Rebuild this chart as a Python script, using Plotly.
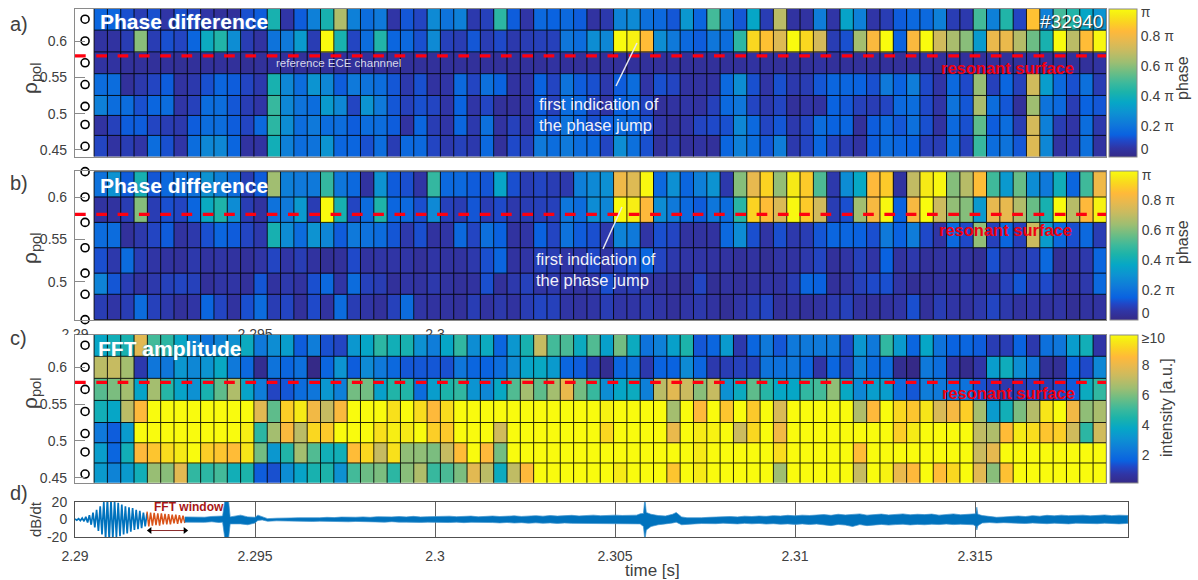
import plotly.graph_objects as go

W, H = 1198, 580
X = lambda p: p / W
Y = lambda p: 1 - p / H

# ---------- data (phase in % of pi, intensity in a.u., rho_pol, time) ----------
t_first = 2.29053
t_cell = 0.00037
n_cols = 76
rho_channels = [0.63, 0.6, 0.57, 0.54, 0.51, 0.485, 0.455]
rho_edges_ac = [0.645, 0.615, 0.585, 0.555, 0.525, 0.4975, 0.47, 0.44]
rho_edges_b = [0.63, 0.6, 0.57, 0.54, 0.51, 0.485, 0.455]
rho_resonant = 0.5795

phase_a_0 = [16,16,12,8,12,6,12,10,6,4,4,12,14,42,6,14,24,42,66,24,18,22,6, 13,10,27,20,24,7,9,46,14,6,17,15,17,14,5,7,25,27,19,17,13,31,16,50,24,13,36,8,68,5, 5,23,6,35,24,6,8,14,17,17,24,8,7,50,24,44,10,85,24,50,44,36,30]
phase_a_1 = [5,5,8,60,8,12,10,16,38,44,28,8,5,20,22,32,8,100,42,10,18,44,16, 17,12,27,9,8,13,8,11,7,8,9,9,21,18,28,26,100,96,84,28,22,17,14,21,18,46,90,85,75,98, 90,73,8,12,64,82,98,15,82,100,72,65,60,32,78,78,67,56,42,100,68,84,97]
phase_a_2 = [5,5,4,4,4,4,3,4,4,4,4,3,4,5,4,4,4,4,4,4,4,4,4, 4,4,4,4,4,4,4,4,4,4,4,5,4,4,4,4,4,4,4,4,4,4,4,4,4,4,5,4,4,4, 4,5,4,4,4,4,4,4,4,5,4,4,4,4,4,4,4,5,4,4,4,4,5]
phase_a_3 = [18,18,4,7,10,14,5,7,12,16,14,10,7,42,26,18,30,26,14,22,20,18,13, 7,12,5,6,17,10,19,15,5,6,15,10,20,14,12,7,14,18,6,12,10,5,5,5,17,28,12,6,12,7, 8,13,16,16,15,12,22,15,23,11,6,17,11,62,9,16,9,72,33,17,12,19,8]
phase_a_4 = [24,18,18,12,16,18,6,9,18,18,13,8,6,48,26,20,18,32,26,10,30,22,13, 9,12,10,6,15,6,10,4,4,6,14,9,18,16,10,6,15,16,10,4,5,6,5,9,17,21,10,7,10,4, 6,5,15,13,9,8,10,17,18,11,6,20,13,65,18,13,4,63,20,17,8,15,13]
phase_a_5 = [5,9,14,14,10,8,7,14,18,18,14,10,17,46,28,18,22,18,18,14,18,18,14, 5,16,8,6,16,7,19,5,9,6,16,13,20,15,12,14,18,16,12,6,4,6,10,11,12,26,17,10,13,7, 10,18,15,16,4,14,17,13,19,12,5,17,12,54,14,18,8,73,24,8,6,18,7]
phase_a_6 = [10,5,8,6,18,12,6,18,26,26,16,5,5,40,24,18,20,30,16,16,12,18,8, 17,17,10,7,9,7,17,4,11,9,22,18,22,18,17,10,28,19,12,4,7,4,5,4,16,24,18,13,23,7, 10,16,10,8,5,14,18,16,15,9,8,18,9,48,18,20,13,75,26,5,7,19,5]

phase_b_0 = [20,30,14,42,13,17,20,20,30,24,18,8,14,64,24,22,22,48,21,17,5,30,14, 12,6,48,17,17,14,13,36,12,8,10,8,7,24,27,29,80,76,98,17,29,16,24,30,7,60,78,90,62,95, 88,52,7,28,37,84,88,5,70,95,98,60,68,85,50,32,56,28,22,40,16,50,80]
phase_b_1 = [5,5,8,60,8,12,10,16,38,44,28,8,5,20,22,32,8,100,42,10,18,44,16, 17,12,27,9,8,13,8,11,7,8,9,9,21,18,28,26,100,96,84,28,22,17,14,21,18,46,90,85,75,98, 88,73,8,12,64,82,98,15,82,100,72,62,60,32,78,78,67,56,42,100,68,84,97]
phase_b_2 = [18,18,4,7,10,14,5,7,12,16,14,10,7,42,28,18,30,26,14,22,20,18,13, 7,12,5,6,17,10,19,15,5,6,15,10,20,14,12,7,25,22,6,12,10,5,5,5,17,28,12,6,12,7, 8,13,16,16,15,12,22,15,23,11,6,17,11,62,9,16,9,72,33,17,12,17,8]
phase_b_3 = [12,7,18,8,6,5,4,7,5,6,5,4,6,10,6,8,5,3,4,11,5,6,6, 6,4,6,5,5,7,12,16,5,6,9,8,6,7,11,6,10,12,16,10,7,6,6,5,5,4,5,3,6,5, 7,10,4,6,9,6,15,5,7,4,5,6,5,3,12,7,7,9,17,3,5,7,16]
phase_b_4 = [25,13,8,5,7,9,10,9,4,6,6,4,13,5,7,5,12,17,6,18,9,8,4, 6,5,7,5,4,5,12,4,7,9,6,7,6,5,6,12,7,8,5,5,4,3,10,3,5,4,5,6,5,8, 16,15,4,6,9,11,12,6,3,4,5,5,7,5,6,9,13,8,11,6,5,7,17]
phase_b_5 = [8,6,8,18,9,7,4,6,16,10,5,12,18,8,10,4,11,5,18,8,6,4,9, 18,6,5,5,4,8,5,7,5,8,10,9,6,5,6,8,6,6,7,6,4,6,7,5,3,6,8,10,4,5, 4,5,7,9,5,4,5,6,12,4,8,6,5,7,10,7,5,6,5,6,3,5,5]

fft_0 = [3.8,4.2,4.4,7.8,5.2,4.8,3.8,2.7,2.2,2.7,3.1,4.0,2.4,3,3.5,1.6,2.5,1.4,1.2,3.3,3.8,4.8,4.2, 4.4,3.1,2.5,3.8,4.9,3.0,4.0,1.8,3.3,4.4,7.2,5.2,5.3,4.0,5.4,3.6,5.9,4.0,2.2,2.6,3.6,4.5,1.5,1.8,3.4,.9,1.8,2.4,1.5,2.4, 2.4,2.4,2.4,1.3,3.3,2.4,4.9,3.4,1.8,3.8,2.2,1.7,1.8,1.6,1.0,1.0,1.7,.9,2.1,2.3,3.5,4.2,.8]
fft_1 = [7,7.2,6.6,.9,2.3,2.3,3.3,2.8,3.2,3.9,2.4,1.9,.4,2.2,1.8,2.1,.2,1.8,3.2,1.6,2.9,2.4,1.9, 1.5,1.5,1.5,1.4,2.3,1.8,1.7,2,2.9,3.7,3.9,3.4,1.8,1.6,1,.4,1.8,2.1,.9,1.7,1.7,2.9,1.8,.9,1,1.1,1.1,2.2,2.1,2.3, 1.8,.8,1.8,1.2,2.6,1.9,2,.4,.2,2.4,2,.8,.3,.8,3.5,4.1,3,2.3,.5,.5,1.8,1.3,2.8]
fft_2 = [5.5,6,6.6,3.7,6.6,4.7,3.7,3.1,4.4,5.6,6.8,3.7,2.5,1.2,1.5,2,2.3,3.3,2.6,5.9,5.9,3.6,4.6, 4.6,2,3.5,4.5,4.9,3.2,2.8,3.9,5.4,6.6,5.6,6.6,8,5.9,5,3,3.8,4,2.6,7,7.8,7.3,6.2,7.2,3.1,4,5.6,4.7,3.8,3.8, 4.9,5.2,6.3,3.9,2.8,3.5,3.5,2,1.5,2.5,2.4,2.1,2.2,1.4,1.1,.9,1,1.2,1,1.2,1.6,4,4.9]
fft_3 = [4.2,3.8,7,8.5,10,10,10,10,10,10,10,10,7.8,5.6,9,9.6,8.2,7.2,8.4,10,10,10,9.4, 10,9.3,8.5,9.3,10,10,10,10,10,10,10,10,10,10,10,9.8,10,10,10,10,6.6,10,8.5,10,8.8,10,8.9,10,7.6,10, 10,10,10,10,6.8,8.5,10,9.2,8.8,9.5,7.6,8.3,9,6.6,3.4,4.2,6,6.9,9.5,10,8.2,6.3,6.7]
fft_4 = [2.4,1.6,3.4,10,10,10,10,10,10,10,10,9.7,4.8,6.6,8.4,7,9.2,8.9,10,10,10,9.4,9.7, 9.6,10,9,8.9,10,10,10,7.4,10,10,10,10,10,10,10,9.2,10,10,10,10,8,10,9.6,9.8,10,7.3,9.2,10,8.2,10, 10,10,10,10,10,10,10,9,9.6,10,10,10,10,7.1,6.8,8.6,9.6,9.3,8.8,9,7.4,4.8,7.4]
fft_5 = [3.5,1.8,4.2,8.5,8.8,9.3,9.6,10,9,8.8,8.6,9.5,5.9,3.3,4.6,6.6,5.4,4.2,4.2,8.6,9.2,7.2,9.4, 6.3,6.3,6,7.2,8.6,10,8.5,5.9,10,10,10,10,10,10,10,10,10,10,10,10,10,10,9.6,10,10,10,10,10,9.3,10, 10,10,10,10,8.6,10,10,10,10,10,10,10,10,7.3,7.9,10,10,10,10,10,10,10,10]
fft_6 = [3.4,2.7,3.4,4.2,6.4,6.2,7.8,4.9,4.8,5.2,4.2,4.5,1.6,1.4,3,3.7,4.4,4.5,3.1,5.2,5.8,6,4.8, 6.2,6.8,5,5.3,6,7.8,7,4,7.1,8.5,10,10,10,10,10,10,9.6,10,10,10,8.8,10,9.6,10,10,10,10,10,6.5,10, 10,10,10,10,7.2,10,9.8,8,8.5,10,8.6,9.2,10,7.8,6.2,8.7,10,10,10,10,10,10,10]

# dB/dt: offsets from 2.29 s in ms. Burst and FFT window as oscillation peaks, the rest as a band
burst_t = [0,.05,.1,.15,.2,.25,.3,.35,.4,.45,.5,.55,.6,.65,.7,.75,.8,.85,.9,.95,1.0,1.05,1.1,1.15,1.2,1.25,1.3,1.35,1.4,1.45,1.5,1.55,1.6,1.65,1.7,1.75,1.8,1.85,1.9,1.95,2.0]
burst_v = [.5,-.8,1,-1.2,1.6,-2,3,-3.5,5,-6,8,-9,11,-13,15,-17,20,-22,24,-24,22,-22,21,-20,19,-19,17,-17,15,-16,14,-14,13,-12,11,-11,10,-10,8,-8,7]
window_t = [2.0,2.05,2.1,2.15,2.2,2.25,2.3,2.35,2.4,2.45,2.5,2.55,2.6,2.65,2.7,2.75,2.8,2.85,2.9,2.95,3.0,3.05]
window_v = [9,-8,8,-7,7.5,-6.5,7,-7,7,-5.5,6.5,-5.5,6,-5.5,5.5,-4.5,5.5,-5,5,-4,4.5,-4]
signal_t = [3.05,
    3.2,3.4,3.6,3.8,4.0,4.1,4.17,4.26,4.31,4.6,4.8,5.0,5.08,5.2,5.35,5.6,5.8,6.0,
    6.2,6.4,6.6,6.8,7.0,7.2,7.4,7.6,7.8,8.0,8.2,8.4,8.6,8.8,9.0,
    9.2,9.4,9.6,9.8,10.0,10.2,10.4,10.6,10.8,11.0,11.2,11.4,11.6,11.8,12.0,12.2,12.4,12.6,12.8,13.0,13.2,13.4,13.6,13.8,14.0,14.2,14.4,14.6,14.8,
    15.0,15.2,15.4,15.6,15.7,15.79,15.83,15.87,16.0,16.2,16.4,16.6,16.7,16.85,17.0,17.2,17.4,
    17.6,17.8,18.0,18.2,18.4,18.6,18.8,19.0,19.2,19.4,19.6,19.8,20.0,20.2,20.4,20.6,20.8,21.0,21.2,21.4,21.6,21.8,22.0,22.2,22.4,22.6,22.8,23.0,23.2,23.4,23.6,23.8,24.0,24.2,24.4,24.6,24.8,
    24.95,25.02,25.05,25.08,25.2,25.4,25.6,25.8,
    26.0,26.2,26.4,26.6,26.8,27.0,27.2,27.4,27.6,27.8,28.0,28.2,28.4,28.6,28.8,29.0,29.25]
signal_hi = [3,
    3,3.4,2.6,3.5,3.8,4,24,24,3,5,3,2.5,5,3,1,1.5,2,1.8,
    2,1.8,2.3,2,2.5,2.2,2.8,2.4,2.6,3,2.5,3.2,2.8,3,3.4,
    3,3.6,2.9,3.2,3.5,3,3.8,3.2,3.4,3.9,3.1,3.6,4,3.4,3.7,4.2,3.5,4,4.4,3.8,4.5,3.9,4.3,4.8,4.1,4.6,5,4.3,4.8,
    5,4.6,5.2,5,6.5,7,24,8,6,4.5,4,6,8,3,2,1.8,2,
    2.5,3,2.8,3.4,3,3.8,3.4,4,3.6,4.4,4,4.8,4.2,5,4.6,5.2,5.6,4.8,6,5.2,5.8,6.4,5,5.6,6.2,5.2,5.8,6.4,5.4,6,5.6,6.2,5,5.8,6.4,5.4,6,
    6,6.5,14,6,4.5,3.5,2.5,3,
    3.6,4,3.4,4.4,3.8,4.8,4.2,5,4.4,4.6,5,4.2,4.8,5.2,4.4,5,4.6]
signal_lo = [-3,
    -2.5,-3,-3.2,-2.6,-3.5,-3,-24,-24,-5,-5,-6,-4,-1,-.5,-2,-1.5,-1.5,-2,
    -1.8,-2,-2.2,-1.9,-2.4,-2.1,-2.3,-2.6,-2.2,-2.8,-2.4,-2.7,-3,-2.5,-3,
    -3,-2.8,-3.3,-3,-3.4,-3.1,-3.5,-3,-3.6,-3.2,-3.7,-3.3,-3.5,-3.9,-3.4,-4,-3.6,-4.2,-3.8,-4.3,-3.9,-4.5,-4,-4.4,-4.8,-4.2,-4.6,-5,-4.5,
    -4.8,-5,-4.6,-5,-5,-8,-24,-12,-8,-6,-5,-4,-3,-6,-5.5,-5,-4.6,
    -4.4,-4.8,-4.2,-4.6,-5,-4.4,-4.9,-4.5,-5.2,-4.8,-5.4,-5,-5.6,-5,-5.8,-5.2,-6,-7,-5.6,-6.4,-8,-5.8,-7,-6,-5.6,-6.4,-5.8,-5.4,-6.2,-5.6,-6,-5.4,-5.8,-5.2,-5.8,-5.4,-5.6,
    -6,-7.5,-12,-7,-4,-3.5,-4,-3.6,
    -3.8,-4.2,-4.6,-4,-4.4,-4.8,-4.2,-4.6,-5,-4.2,-4.8,-4.4,-4.8,-4.2,-4.6,-5,-4.4]

window_span = [2.29208, 2.29306]
window_span_y = -12.6
time_ticks = [2.29, 2.295, 2.3, 2.305, 2.31, 2.315]
rho_ticks = [0.45, 0.5, 0.55, 0.6]

# ---------- styles ----------
parula = [[0, "#352a87"], [0.06, "#3035a5"], [0.11, "#2048c8"], [0.15, "#0a62e0"], [0.22, "#0f78da"],
          [0.3, "#0d92d2"], [0.37, "#06a7c6"], [0.44, "#1cb3aa"], [0.5, "#3cb99c"], [0.57, "#6bbd85"],
          [0.64, "#9dbe72"], [0.72, "#c9bb60"], [0.79, "#e8b94e"], [0.85, "#ffb93a"], [0.91, "#fbd322"],
          [0.96, "#f6ea16"], [1, "#f9fb0e"]]
FONT = "Liberation Sans, Arial, sans-serif"
TICK = "#404040"
EDGE = "#8a8a8a"

fig = go.Figure()
x_edges = [t_first + i * t_cell for i in range(n_cols + 1)]


def colorbar(top, bottom, left, vals, texts):
    return dict(x=X(left), xanchor="left", xpad=0, thickness=27.5, thicknessmode="pixels",
                y=Y(bottom), yanchor="bottom", ypad=0, len=(bottom - top) / H, lenmode="fraction",
                tickvals=vals, ticktext=texts, ticks="",
                tickfont=dict(family=FONT, size=14, color=TICK), outlinecolor=EDGE, outlinewidth=1)


def add_panel(z, y_edges, zmin, zmax, cb, xa, ya):
    fig.add_trace(go.Heatmap(z=z, x=x_edges, y=y_edges, zmin=zmin, zmax=zmax, colorscale=parula,
                             colorbar=cb, xaxis=xa, yaxis=ya, hoverinfo="skip"))
    gx, gy = [], []
    for e in x_edges:
        gx += [e, e, None]
        gy += [min(y_edges), max(y_edges), None]
    for e in y_edges:
        gx += [x_edges[0], x_edges[-1], None]
        gy += [e, e, None]
    fig.add_trace(go.Scatter(x=gx, y=gy, mode="lines", line=dict(color="black", width=1), opacity=0.85,
                             xaxis=xa, yaxis=ya, showlegend=False, hoverinfo="skip"))
    fig.add_trace(go.Scatter(x=[2.29, x_edges[-1]], y=[rho_resonant, rho_resonant], mode="lines",
                             line=dict(color="#ff0010", width=3.3, dash="10.7px,10.6px"),
                             xaxis=xa, yaxis=ya, showlegend=False, hoverinfo="skip"))
    fig.add_trace(go.Scatter(x=[2.29028] * len(rho_channels), y=rho_channels, mode="markers", cliponaxis=False,
                             marker=dict(symbol="circle-open", size=8, color="black", line=dict(width=1.6, color="black")),
                             xaxis=xa, yaxis=ya, showlegend=False, hoverinfo="skip"))


add_panel([phase_a_6, phase_a_5, phase_a_4, phase_a_3, phase_a_2, phase_a_1, phase_a_0], rho_edges_ac[::-1], 0, 98,
          colorbar(9, 156.5, 1109, [4.9, 20, 40, 60, 80, 95.7], ["0", "0.2 π", "0.4 π", "0.6 π", "0.8 π", "π"]), "x", "y")
add_panel([phase_b_5, phase_b_4, phase_b_3, phase_b_2, phase_b_1, phase_b_0], rho_edges_b[::-1], 0, 99,
          colorbar(171.3, 320, 1110, [4.7, 20, 40, 60, 80, 96], ["0", "0.2 π", "0.4 π", "0.6 π", "0.8 π", "π"]), "x2", "y2")
add_panel([fft_6, fft_5, fft_4, fft_3, fft_2, fft_1, fft_0], rho_edges_ac[::-1], 0.2, 10,
          colorbar(335, 482.7, 1110, [2, 4, 6, 8, 9.75], ["2", "4", "6", "8", "≥10"]), "x3", "y3")

sig_t = [2.29 + v / 1000 for v in signal_t]
fig.add_trace(go.Scatter(x=[2.29 + v / 1000 for v in burst_t], y=burst_v, mode="lines",
                         line=dict(color="#0072BD", width=1.7), xaxis="x4", yaxis="y4", showlegend=False, hoverinfo="skip"))
fig.add_trace(go.Scatter(x=[2.29 + v / 1000 for v in window_t], y=window_v, mode="lines",
                         line=dict(color="#D95319", width=1.5), xaxis="x4", yaxis="y4", showlegend=False, hoverinfo="skip"))
fig.add_trace(go.Scatter(x=sig_t + sig_t[::-1], y=signal_hi + signal_lo[::-1], mode="lines", fill="toself",
                         fillcolor="#0072BD", line=dict(color="#3d94cf", width=0.7),
                         xaxis="x4", yaxis="y4", showlegend=False, hoverinfo="skip"))
fig.add_trace(go.Scatter(x=window_span, y=[window_span_y, window_span_y], mode="lines+markers",
                         line=dict(color="#8a2a2a", width=1),
                         marker=dict(symbol=["triangle-left", "triangle-right"], size=6, color="black"),
                         xaxis="x4", yaxis="y4", showlegend=False, hoverinfo="skip"))
# tick labels of panel b, half hidden behind panel c
fig.add_trace(go.Scatter(x=time_ticks[:3], y=[0, 0, 0], mode="text", text=["2.29", "2.295", "2.3"], cliponaxis=True,
                         textposition="middle center", textfont=dict(family=FONT, size=14, color=TICK),
                         xaxis="x5", yaxis="y5", showlegend=False, hoverinfo="skip"))


def rho_axis(top, bottom, lo, hi, anchor):
    return dict(domain=[Y(bottom), Y(top)], range=[lo, hi], anchor=anchor, tickvals=rho_ticks,
                ticktext=[str(v) for v in rho_ticks], ticks="inside", ticklen=10, tickcolor=EDGE, tickwidth=1,
                tickfont=dict(family=FONT, size=14, color=TICK), showgrid=False, zeroline=False,
                showline=True, mirror=True, linecolor=EDGE, linewidth=1.2, ticklabelstandoff=4)


def time_axis(anchor):
    return dict(domain=[X(75), X(1106)], range=[2.29, 2.29 + 1031 / 36000], anchor=anchor, showticklabels=False,
                ticks="", showgrid=False, zeroline=False, showline=True, mirror=True, linecolor=EDGE, linewidth=1.2)


def ann(text, x, y, size, color=TICK, anchor="left", bold=False, angle=0, shadow=None):
    font = dict(family=FONT, size=size, color=color, weight="bold" if bold else "normal")
    if shadow:
        font["shadow"] = shadow
    return dict(text=text, x=X(x), y=Y(y), xref="paper", yref="paper", xanchor=anchor, yanchor="middle",
                showarrow=False, textangle=angle, font=font, borderpad=0)


annotations = [
    ann("a)", 9, 24, 20), ann("b)", 9, 183, 20), ann("c)", 9, 338, 20), ann("d)", 9, 493, 20),
    ann("Phase difference", 99, 21, 21, "white", bold=True, shadow="0 0 2px #3070d0"),
    ann("Phase difference", 99, 185, 21, "white", bold=True, shadow="0 0 2px #3070d0"),
    ann("FFT amplitude", 97, 348, 21, "white", bold=True, shadow="0 0 2px #30a0b0"),
    ann("reference ECE channnel", 275, 63, 11.5, "#d8d8e8"),
    ann("#32940", 1039, 21, 19, "white", shadow="1px 1px 1px #303030"),
    ann("first indication of", 538, 104, 16.5, "#f0f0f8"), ann("the phase jump", 538, 125, 16.5, "#f0f0f8"),
    ann("first indication of", 535, 259, 16.5, "#f0f0f8"), ann("the phase jump", 535, 280, 16.5, "#f0f0f8"),
    ann("resonant surface", 940, 68, 16.5, "#f00010", bold=True),
    ann("resonant surface", 938, 230, 16.5, "#f00010", bold=True),
    ann("resonant surface", 941, 393, 16.5, "#f00010", bold=True),
    ann("ρ<sub>pol</sub>", 31, 78, 21, angle=-90, anchor="center"),
    ann("ρ<sub>pol</sub>", 31, 248, 21, angle=-90, anchor="center"),
    ann("ρ<sub>pol</sub>", 31, 393, 21, angle=-90, anchor="center"),
    ann("phase", 1183, 78, 16, angle=-90, anchor="center"),
    ann("phase", 1182, 242, 16, angle=-90, anchor="center"),
    ann("intensity [a.u.]", 1166, 408, 16, angle=-90, anchor="center"),
    ann("dB/dt", 35, 519, 15, angle=-90, anchor="center"),
    ann("time [s]", 652, 570, 17, anchor="center"),
    ann("FFT window", 153, 507, 12, "#a81616", bold=True),
]

shapes = [
    dict(type="line", xref="paper", yref="paper", x0=X(637), y0=Y(43), x1=X(616), y1=Y(86), line=dict(color="#e8e8f0", width=1.5)),
    dict(type="line", xref="paper", yref="paper", x0=X(622), y0=Y(207), x1=X(603), y1=Y(249), line=dict(color="#e8e8f0", width=1.5)),
]

fig.update_layout(
    width=W, height=H, margin=dict(l=0, r=0, t=0, b=0, pad=0, autoexpand=False), autosize=False,
    paper_bgcolor="white", plot_bgcolor="white", showlegend=False,
    xaxis=time_axis("y"), xaxis2=time_axis("y2"), xaxis3=time_axis("y3"),
    yaxis=rho_axis(9, 156.5, 0.4409, 0.6441, "x"),
    yaxis2=rho_axis(171.3, 320, 0.4546, 0.6304, "x2"),
    yaxis3=rho_axis(335, 482.7, 0.4432, 0.6439, "x3"),
    xaxis4=dict(domain=[X(75), X(1128)], range=[2.29, 2.29 + 1053 / 36000], anchor="y4", tickvals=time_ticks,
                ticktext=[str(v) for v in time_ticks], ticks="", showgrid=True, gridcolor="#606060", gridwidth=1,
                zeroline=False, showline=True, mirror=True, linecolor="#505050", linewidth=1,
                tickfont=dict(family=FONT, size=14, color=TICK), ticklabelstandoff=6),
    yaxis4=dict(domain=[Y(537), Y(502)], range=[-20, 20], anchor="x4", tickvals=[-20, 0, 20],
                ticktext=["-20", "0", "20"], ticks="", showgrid=False, zeroline=False, showline=True, mirror=True,
                linecolor="#505050", linewidth=1, tickfont=dict(family=FONT, size=14, color=TICK), ticklabelstandoff=4),
    xaxis5=dict(domain=[X(50), X(460)], range=[2.29 - 25 / 36000, 2.29 + 385 / 36000], anchor="y5", visible=False),
    yaxis5=dict(domain=[Y(335), Y(325)], range=[0, 1], anchor="x5", visible=False),
    annotations=annotations, shapes=shapes,
)

fig.write_html("out.html", config=dict(displayModeBar=False),
               post_script="document.body.style.margin='0';document.documentElement.style.overflow='hidden';")
